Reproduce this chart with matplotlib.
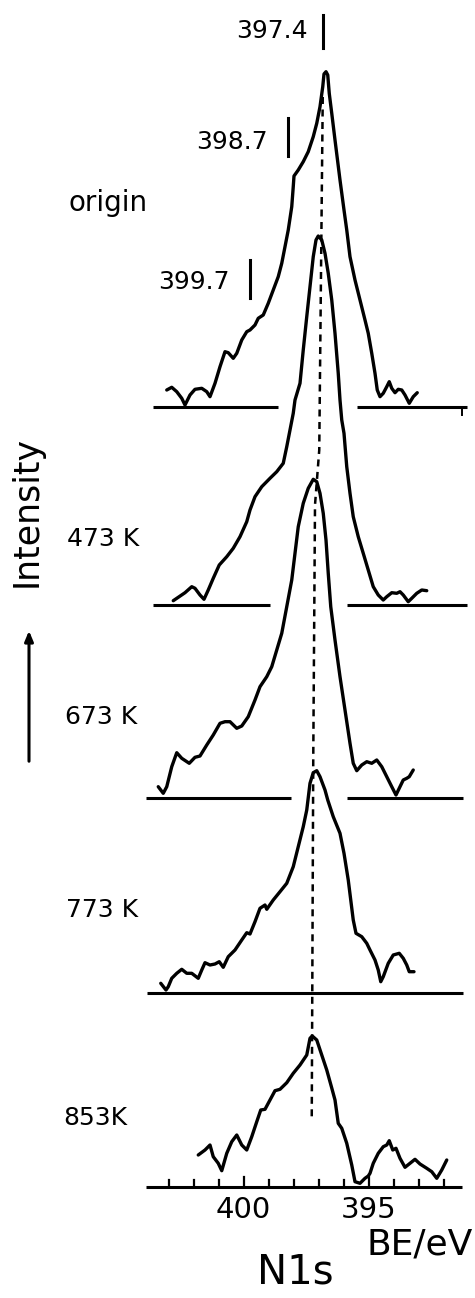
import matplotlib
matplotlib.use("Agg")
import matplotlib.pyplot as plt
import numpy as np

# ---------------- data (binding energy in eV, intensity in arbitrary units above each baseline)
labels = ["origin", "473 K", "673 K", "773 K", "853K"]

be_origin = [403.07, 402.87, 402.67, 402.47, 402.34, 402.14, 401.94, 401.67, 401.47, 401.34,
             401.14, 400.94, 400.74, 400.61, 400.41, 400.27, 400.07, 399.87, 399.74, 399.54,
             399.41, 399.21, 399.01, 398.81, 398.61, 398.47, 398.34, 398.21, 398.07, 398.01,
             397.98, 397.81, 397.61, 397.41, 397.21, 397.07, 396.94, 396.83, 396.78, 396.70,
             396.63, 396.57, 396.47, 396.34, 396.14, 395.98, 395.87, 395.74, 395.54, 395.34,
             395.14, 395.01, 394.87, 394.74, 394.65, 394.54, 394.41, 394.27, 394.17, 394.07,
             393.94, 393.81, 393.67, 393.54, 393.37, 393.21, 393.05]
int_origin = [17.3, 20.0, 15.6, 9.0, 2.3, 12.3, 18.0, 19.0, 15.6, 10.6,
              24.0, 40.6, 55.6, 54.6, 49.0, 54.0, 67.3, 75.6, 77.3, 82.3,
              89.0, 92.3, 104.0, 117.3, 130.6, 144.0, 160.6, 177.3, 200.6, 220.6,
              231.3, 237.3, 245.6, 255.6, 270.6, 284.0, 300.6, 320.6, 333.3, 335.6,
              332.3, 314.0, 294.0, 267.3, 227.3, 197.3, 177.3, 150.6, 127.3, 107.3,
              87.3, 74.0, 54.0, 34.0, 17.3, 10.6, 14.0, 20.6, 25.6, 19.0,
              14.6, 18.0, 17.3, 12.3, 4.0, 10.6, 14.6]

be_473 = [402.81, 402.61, 402.34, 402.07, 401.94, 401.74, 401.58, 401.41, 401.21, 400.97,
          400.67, 400.41, 400.14, 399.87, 399.74, 399.54, 399.27, 398.94, 398.67, 398.41,
          398.27, 398.14, 398.01, 397.94, 397.74, 397.61, 397.47, 397.34, 397.21, 397.10,
          397.01, 396.87, 396.74, 396.61, 396.47, 396.34, 396.21, 396.14, 396.07, 395.98,
          395.87, 395.74, 395.61, 395.41, 395.21, 395.01, 394.81, 394.61, 394.41, 394.27,
          394.07, 393.87, 393.74, 393.61, 393.41, 393.27, 393.07, 392.87, 392.67]
int_473 = [4.3, 7.7, 12.3, 18.3, 16.7, 10.0, 5.7, 15.0, 26.7, 40.0,
           48.3, 56.7, 68.3, 83.3, 95.0, 108.3, 118.3, 126.7, 133.3, 141.7,
           158.3, 175.0, 191.7, 205.0, 221.7, 255.0, 288.3, 318.3, 348.3, 365.0,
           369.0, 365.0, 351.7, 331.7, 305.0, 271.7, 231.7, 205.0, 185.0, 171.7,
           138.3, 111.7, 88.3, 68.3, 51.7, 35.0, 18.3, 10.0, 5.0, 8.3,
           12.3, 11.7, 13.3, 10.0, 3.3, 6.7, 11.7, 15.0, 14.3]

be_673 = [403.41, 403.21, 403.07, 402.87, 402.67, 402.47, 402.17, 401.94, 401.74, 401.47,
          401.21, 400.94, 400.74, 400.54, 400.27, 400.07, 399.81, 399.54, 399.34, 399.07,
          398.87, 398.67, 398.47, 398.27, 398.07, 397.94, 397.81, 397.61, 397.41, 397.21,
          397.07, 396.94, 396.81, 396.70, 396.61, 396.51, 396.34, 396.14, 395.94, 395.74,
          395.61, 395.47, 395.27, 395.07, 394.87, 394.67, 394.47, 394.27, 394.07, 393.90,
          393.74, 393.61, 393.47, 393.37, 393.21]
int_673 = [11.6, 5.0, 11.6, 31.6, 45.6, 40.0, 35.0, 41.0, 42.3, 53.3,
           63.3, 75.0, 76.6, 76.6, 70.0, 72.3, 81.6, 98.3, 111.6, 121.6,
           131.6, 148.3, 165.0, 191.6, 218.3, 245.0, 271.6, 295.0, 310.0, 319.0,
           316.6, 305.0, 285.0, 258.3, 225.0, 191.6, 158.3, 121.6, 88.3, 55.0,
           35.0, 27.6, 33.3, 36.6, 35.0, 38.3, 31.6, 21.6, 11.6, 3.3,
           11.6, 18.3, 20.0, 21.6, 28.3]

be_773 = [403.31, 403.10, 403.01, 402.87, 402.67, 402.47, 402.27, 402.07, 401.81, 401.67,
          401.54, 401.34, 401.14, 400.97, 400.81, 400.61, 400.34, 400.07, 399.87, 399.74,
          399.54, 399.34, 399.14, 399.07, 398.81, 398.54, 398.27, 398.01, 397.81, 397.61,
          397.47, 397.34, 397.21, 397.07, 396.94, 396.74, 396.63, 396.41, 396.14, 395.98,
          395.81, 395.71, 395.61, 395.50, 395.27, 395.07, 394.94, 394.74, 394.61, 394.51,
          394.41, 394.21, 394.01, 393.77, 393.61, 393.47, 393.37, 393.18]
int_773 = [10.0, 3.3, 6.6, 15.0, 20.0, 24.0, 20.0, 20.0, 15.0, 23.3,
           30.6, 28.3, 29.3, 31.6, 26.0, 36.6, 43.3, 53.3, 60.6, 59.3,
           71.6, 85.0, 88.3, 84.0, 93.3, 101.6, 110.0, 126.6, 146.6, 166.6,
           183.3, 210.0, 220.6, 222.6, 216.6, 203.3, 193.3, 176.6, 160.0, 140.0,
           113.3, 93.3, 73.3, 60.0, 56.6, 50.0, 43.3, 33.3, 23.3, 11.6,
           16.6, 30.0, 38.3, 40.0, 35.0, 28.3, 21.6, 21.6]

be_853 = [401.81, 401.54, 401.34, 401.21, 401.01, 400.87, 400.67, 400.47, 400.27, 400.07,
          399.87, 399.67, 399.47, 399.31, 399.14, 398.94, 398.74, 398.54, 398.27, 398.01,
          397.74, 397.47, 397.34, 397.25, 397.07, 396.87, 396.67, 396.47, 396.34, 396.21,
          396.07, 395.87, 395.67, 395.54, 395.34, 395.14, 395.01, 394.94, 394.81, 394.61,
          394.41, 394.27, 394.17, 394.03, 393.90, 393.74, 393.54, 393.34, 393.14, 392.94,
          392.67, 392.47, 392.27, 392.07, 391.87]
int_853 = [31.7, 36.7, 41.7, 30.0, 23.4, 16.0, 33.4, 45.0, 51.7, 41.7,
           36.7, 50.0, 65.0, 76.7, 77.4, 86.7, 96.0, 97.4, 104.0, 113.4,
           121.7, 131.7, 148.4, 150.7, 146.7, 131.7, 116.7, 98.7, 86.7, 63.4,
           58.4, 43.4, 21.7, 5.0, 3.4, 8.4, 10.7, 13.4, 23.4, 33.4,
           40.0, 41.7, 46.0, 36.7, 38.4, 28.4, 19.4, 23.4, 27.4, 22.7,
           18.4, 15.0, 8.4, 16.7, 26.7]

peak_labels = ["397.4", "398.7", "399.7"]
tick_values = [403, 402, 401, 400, 399, 398, 397, 396, 395, 394, 393, 392]
tick_labels = ["400", "395"]

# ---------------- layout
W, H = 475, 1298
fig = plt.figure(figsize=(W / 100, H / 100), dpi=100)
ax = fig.add_axes([0, 0, 1, 1])
ax.set_xlim(400 + 243.5 / 25, 400 - (W - 243.5) / 25)
ax.set_ylim(0, H)
ax.axis("off")

offsets = [890.7, 693.0, 499.7, 304.7, 111.3]
series = [(be_origin, int_origin), (be_473, int_473), (be_673, int_673),
          (be_773, int_773), (be_853, int_853)]
LW = 2.4
for (b, v), off in zip(series, offsets):
    ax.plot(b, np.array(v) + off, color="black", lw=LW, solid_joinstyle="round",
            solid_capstyle="round")

# baselines (segments broken where the peak crosses)
base_segments = [
    [(403.62, 398.63), (395.45, 391.07)],
    [(403.63, 398.94), (395.85, 391.07)],
    [(403.90, 398.10), (395.85, 391.21)],
    [(403.87, 391.21)],
    [(403.90, 391.27)],
]
for segs, off in zip(base_segments, offsets):
    for a, b in segs:
        ax.plot([a, b], [off, off], color="black", lw=2.2, solid_capstyle="butt")
# small end mark on the right of the top baseline
ax.plot([391.27, 391.27], [offsets[0], offsets[0] - 8], color="black", lw=1.4)

# bottom axis ticks
for t in tick_values:
    L = 10 if t in (400, 395) else 7
    ax.plot([t, t], [offsets[-1], offsets[-1] + L], color="black", lw=1.6)

# dashed guide line through the main peak
dash_be = [396.83, 396.97, 397.14, 397.21, 397.27]
dash_y = [1201, 848, 793, 538, 181]
ax.plot(dash_be, dash_y, color="black", lw=1.8, dashes=(2.8, 2.2))

# helper for pixel positioning
def fx(x):
    return x / W

def fy(y):
    return 1 - y / H

FONT = "DejaVu Sans"

# peak-position marks
marks = [(323, 15, 48, 308, 31), (287.7, 118, 156, 268, 142), (250, 260, 298, 230, 282)]
for lab, (mx, y0, y1, tx, ty) in zip(peak_labels, marks):
    ax.plot([fx(mx), fx(mx)], [fy(y0), fy(y1)], color="black", lw=2.2,
            transform=fig.transFigure)
    fig.text(fx(tx), fy(ty), lab, ha="right", va="center", fontsize=18, family=FONT)

# temperature labels
label_pos = [(68, 203), (67, 539), (65, 717), (66, 910), (63, 1118)]
label_size = [20, 18, 18, 18, 18]
for lab, (tx, ty), fs in zip(labels, label_pos, label_size):
    fig.text(fx(tx), fy(ty), lab, ha="left", va="center", fontsize=fs, family=FONT)

# tick labels
for lab, val in zip(tick_labels, [400, 395]):
    ax.text(val, offsets[-1] - 23, lab, ha="center", va="center", fontsize=21, family=FONT)

fig.text(fx(473), fy(1244), "BE/eV", ha="right", va="center", fontsize=26, family=FONT)
fig.text(fx(295), fy(1273), "N1s", ha="center", va="center", fontsize=29, family=FONT)

# Intensity label + arrow
fig.text(fx(27), fy(511), "Intensity", rotation=90, ha="center", va="center",
         fontsize=25, family=FONT)
ax.annotate("", xy=(fx(29), fy(628)), xytext=(fx(29), fy(764)),
            xycoords="figure fraction", textcoords="figure fraction",
            arrowprops=dict(arrowstyle="-|>,head_length=0.6,head_width=0.25",
                            color="black", lw=2.2))

fig.savefig("out.png", dpi=100)
